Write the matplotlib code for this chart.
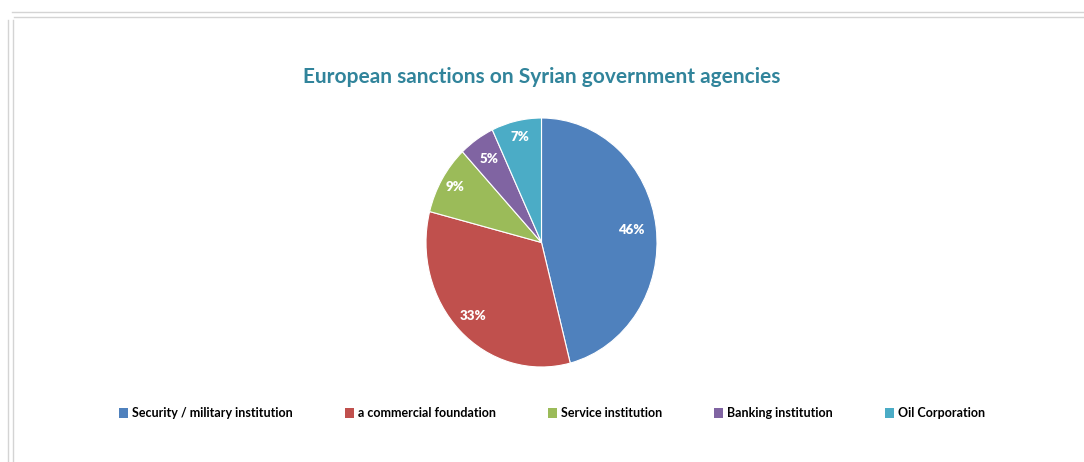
import numpy as np
import matplotlib.pyplot as plt
from matplotlib.lines import Line2D
from matplotlib.patches import Patch

# Anteile der sanktionierten Einrichtungen (Prozent)
categories = ['Security / military institution', 'a commercial foundation',
              'Service institution', 'Banking institution', 'Oil Corporation']
shares = [46, 33, 9, 5, 7]
colors = ['#4F81BD', '#C0504D', '#9BBB59', '#8064A2', '#4BACC6']
# Abstand der Prozentwerte vom Mittelpunkt (Anteil des Radius)
label_dist = [0.78, 0.84, 0.87, 0.81, 0.87]

W, H = 1084, 462
fig = plt.figure(figsize=(W / 100, H / 100), dpi=100)
plt.rcParams['font.family'] = ['Lato', 'DejaVu Sans']


def px(x, y):
    # Pixelkoordinaten (oben links) -> Figurkoordinaten
    return x / W, 1 - y / H


# Rahmen des eingebetteten Diagramms
frame = '#d4d4d4'
for (x0, y0), (x1, y1) in [((12, 12), (1084, 12)), ((14, 17), (1084, 17)),
                           ((8, 20), (8, 462)), ((13, 20), (13, 462))]:
    a, b = px(x0, y0)
    c, d = px(x1, y1)
    fig.add_artist(Line2D([a, c], [b, d], color=frame, lw=1))

# Titel
tx, ty = px(542, 77)
fig.text(tx, ty, 'European sanctions on Syrian government agencies',
         ha='center', va='center', fontsize=15, fontweight='bold',
         color='#31849B')

# Kreisdiagramm
left, top = px(426, 118)
right, bottom = px(657, 367)
ax = fig.add_axes([left, bottom, right - left, top - bottom])
wedges, texts, autotexts = ax.pie(
    shares, colors=colors, startangle=90, counterclock=False,
    autopct='%1.0f%%', pctdistance=0.78,
    wedgeprops=dict(edgecolor='white', linewidth=0.8),
    textprops=dict(color='white', fontsize=9.5, fontweight='heavy'))
for w, t, d in zip(wedges, autotexts, label_dist):
    mid = np.deg2rad((w.theta1 + w.theta2) / 2)
    t.set_position((d * np.cos(mid), d * np.sin(mid)))
ax.set_aspect('auto')
ax.set_xlim(-1.0, 1.0)
ax.set_ylim(-1.0, 1.0)

# Legende unten
handles = [Patch(facecolor=c, edgecolor='none') for c in colors]
lx, ly = px(552, 413)
fig.legend(handles, categories, loc='center', bbox_to_anchor=(lx, ly),
           ncol=5, frameon=False, handlelength=0.7,
           handleheight=0.9, handletextpad=0.3, columnspacing=4.2,
           prop=dict(size=9, weight='bold'))

fig.savefig('out.png', dpi=100, facecolor='white')
